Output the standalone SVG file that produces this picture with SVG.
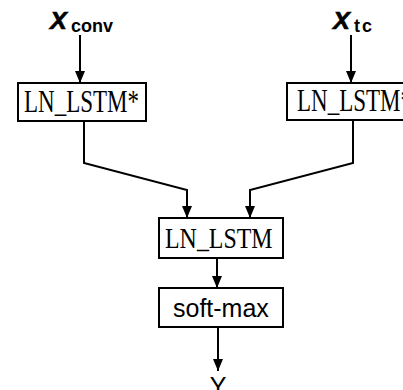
<svg xmlns="http://www.w3.org/2000/svg" width="403" height="390" viewBox="0 0 403 390">
<defs>
<marker id="arr" markerWidth="12" markerHeight="10" refX="12" refY="5" orient="auto" markerUnits="userSpaceOnUse" viewBox="0 0 12 10">
<path d="M0,0 L12,5 L0,10 Z" fill="#000"/>
</marker>
<style>
.box{fill:#fff;stroke:#000;stroke-width:2}
.ser{font-family:"Liberation Serif","Times New Roman",serif;font-size:23px;fill:#000}
.sans{font-family:"Liberation Sans",Arial,sans-serif;font-size:25px;fill:#000}
.xb{font-family:"Liberation Sans",Arial,sans-serif;font-weight:bold;font-style:italic;font-size:23px;fill:#000;stroke:#000;stroke-width:0.6}
.sub{font-family:"Liberation Sans",Arial,sans-serif;font-weight:bold;font-size:18px;fill:#000}
.ln{fill:none;stroke:#000;stroke-width:2}
</style>
</defs>
<rect width="403" height="390" fill="#fff"/>
<g id="connectors">
<path class="ln" d="M80,35 V83" marker-end="url(#arr)"/>
<path class="ln" d="M351,35 V83" marker-end="url(#arr)"/>
<path class="ln" d="M84,121 V163 L187,190 V218" marker-end="url(#arr)"/>
<path class="ln" d="M353,120 V163 L250,190 V218" marker-end="url(#arr)"/>
<path class="ln" d="M217,258 V288" marker-end="url(#arr)"/>
<path class="ln" d="M218,327 V371" marker-end="url(#arr)"/>
</g>
<g id="x_conv">
<text class="xb" transform="translate(50,29) scale(1.1,1.05)">X</text>
<text class="sub" x="71" y="32">conv</text>
</g>
<g id="x_tc">
<text class="xb" transform="translate(333,29) scale(1.1,1.05)">X</text>
<text class="sub" x="354" y="32" letter-spacing="2">tc</text>
</g>
<g id="ln_lstm_left">
<rect class="box" x="18" y="83" width="128" height="38"/>
<text class="ser" transform="translate(24,112) scale(1,1.38)">LN_LSTM*</text>
</g>
<g id="ln_lstm_right">
<rect class="box" x="287" y="83" width="128" height="37"/>
<text class="ser" transform="translate(297,111) scale(1,1.38)">LN_LSTM*</text>
</g>
<g id="ln_lstm">
<rect class="box" x="159" y="218" width="124" height="40"/>
<text class="ser" transform="translate(165,248) scale(1.04,1.32)">LN_LSTM</text>
</g>
<g id="softmax">
<rect class="box" x="159" y="288" width="124" height="39"/>
<text class="sans" x="173" y="317">soft-max</text>
</g>
<g id="output_y">
<text class="sans" x="218" y="395" text-anchor="middle">Y</text>
</g>
</svg>
